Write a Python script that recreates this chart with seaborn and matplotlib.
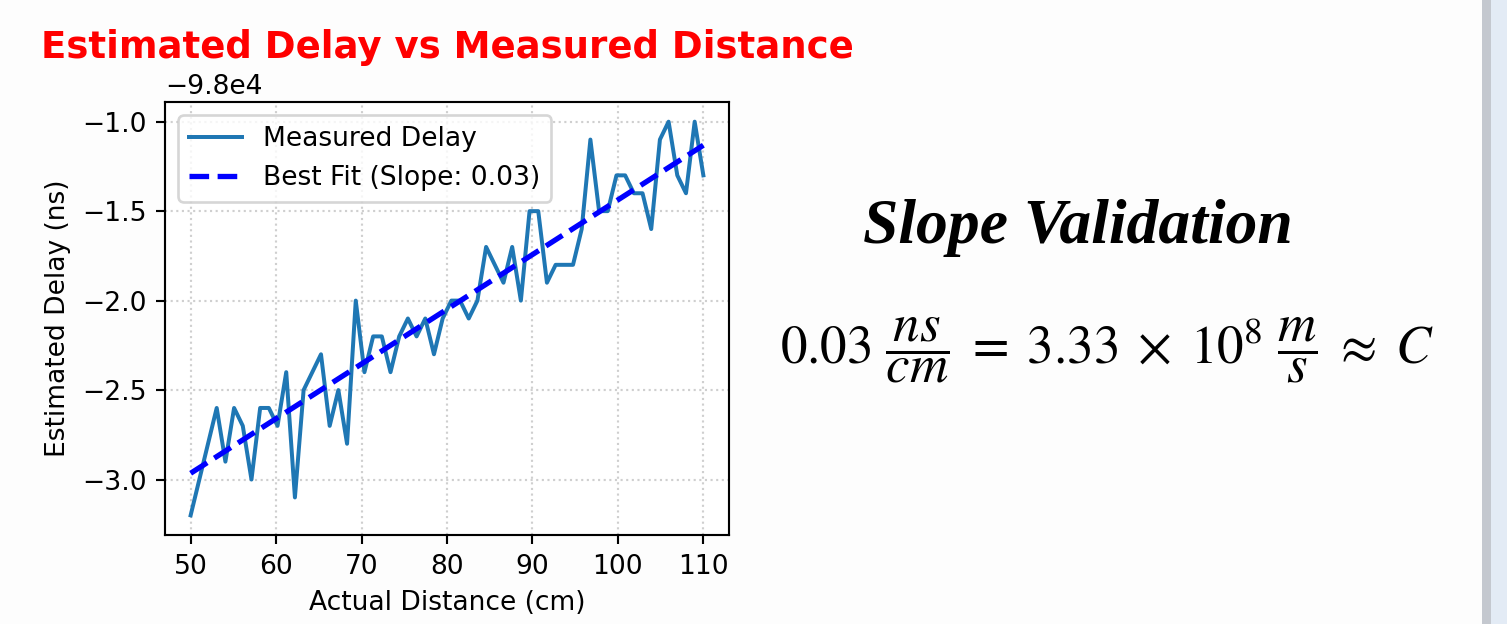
import numpy as np
import pandas as pd
import matplotlib
matplotlib.use("Agg")
import matplotlib.pyplot as plt
import seaborn as sns
from matplotlib.patches import Rectangle

# ---- data ----
distance_cm = np.linspace(50, 110, 60)
delay_ns = [
    -98003.2, -98003.0, -98002.8, -98002.6, -98002.9, -98002.6, -98002.7, -98003.0,
    -98002.6, -98002.6, -98002.7, -98002.4, -98003.1, -98002.5, -98002.4, -98002.3,
    -98002.7, -98002.5, -98002.8, -98002.0, -98002.4, -98002.2, -98002.2, -98002.4,
    -98002.2, -98002.1, -98002.2, -98002.1, -98002.3, -98002.1, -98002.0, -98002.0,
    -98002.1, -98002.0, -98001.7, -98001.8, -98001.9, -98001.7, -98002.0, -98001.5,
    -98001.5, -98001.9, -98001.8, -98001.8, -98001.8, -98001.6, -98001.1, -98001.5,
    -98001.5, -98001.3, -98001.3, -98001.4, -98001.4, -98001.6, -98001.1, -98001.0,
    -98001.3, -98001.4, -98001.0, -98001.3,
]
title = "Estimated Delay vs Measured Distance"
x_label = "Actual Distance (cm)"
y_label = "Estimated Delay (ns)"
side_title = "Slope Validation"
side_equation = r"$0.03\ \dfrac{ns}{cm}\; =\; 3.33\; \times\; 10^{8}\ \dfrac{m}{s}\; \approx\; C$"

df = pd.DataFrame({"distance": distance_cm, "delay": delay_ns})
slope, intercept = np.polyfit(df["distance"], df["delay"], 1)
df["fit"] = slope * df["distance"] + intercept

DPI = 191
fig = plt.figure(figsize=(1507 / DPI, 624 / DPI), dpi=DPI)
fig.patch.set_facecolor("#fdfdfd")
ax = fig.add_axes([165 / 1507, 1 - 535 / 624, (729 - 165) / 1507, (535 - 102) / 624])

sns.lineplot(data=df, x="distance", y="delay", ax=ax, color="#1f77b4",
             linewidth=1.5, label="Measured Delay")
sns.lineplot(data=df, x="distance", y="fit", ax=ax, color="blue",
             linewidth=2, linestyle="--", label=f"Best Fit (Slope: {slope:.2f})")

ax.set_xlabel(x_label)
ax.set_ylabel(y_label)
ax.set_title(title, color="red", fontsize=14, fontweight="bold")
ax.grid(True, linestyle=":", alpha=0.6)
ax.legend(loc="upper left")
ax.set_facecolor("white")

# right side text
fig.text(1078 / 1507, 1 - 228 / 624, side_title, family="Liberation Serif",
         fontweight="bold", style="italic", fontsize=24, ha="center", va="center")
fig.text(1107 / 1507, 1 - 350 / 624, side_equation, fontsize=20,
         ha="center", va="center", math_fontfamily="stix")

# scrollbar decoration at right edge
fig.patches.append(Rectangle((1482 / 1507, 0), 9 / 1507, 1, transform=fig.transFigure,
                             facecolor="#c4c8cf", edgecolor="none", zorder=0))
fig.patches.append(Rectangle((1491 / 1507, 0), 16 / 1507, 1, transform=fig.transFigure,
                             facecolor="#e3ebf5", edgecolor="none", zorder=0))

fig.savefig("out.png", dpi=DPI)
